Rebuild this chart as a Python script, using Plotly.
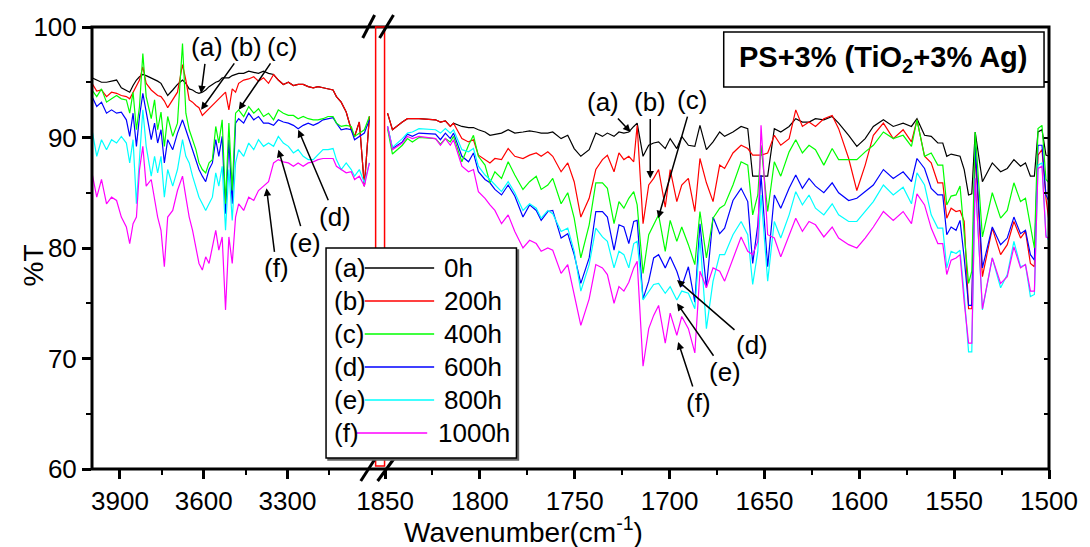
import plotly.graph_objects as go

# ---------------- data ----------------
W_LEFT = [4000, 3983, 3966, 3948, 3930, 3912, 3895, 3877, 3865, 3853, 3841, 3830, 3818, 3806, 3788, 3776,
          3765, 3753, 3741, 3729, 3711, 3694, 3676, 3664, 3652, 3640, 3628, 3617, 3605, 3593, 3581, 3569,
          3557, 3546, 3534, 3522, 3510, 3498, 3486, 3475, 3457, 3439, 3421, 3404, 3386, 3368, 3350, 3333,
          3315, 3297, 3279, 3262, 3244, 3226, 3208, 3191, 3173, 3155, 3137, 3125, 3108, 3090, 3072, 3060,
          3043, 3025, 3007]

W_RIGHT = [1848.7, 1846.1, 1840.9, 1838.2, 1835.6, 1832.1, 1823.4, 1820.8, 1818.2, 1815.6, 1813.9, 1809.5,
           1806.0, 1803.4, 1800.8, 1797.3, 1794.7, 1792.1, 1788.6, 1785.1, 1781.6, 1777.3, 1773.8, 1770.3,
           1767.7, 1764.2, 1761.6, 1757.2, 1753.7, 1750.3, 1746.8, 1742.4, 1738.9,
           1735.4, 1732.8, 1729.3, 1726.7, 1724.1, 1721.5, 1718.9, 1717.1, 1714.0, 1711.0, 1708.4, 1705.8,
           1702.3, 1699.7, 1696.2, 1693.6, 1690.1, 1686.7, 1684.0, 1680.6, 1677.1, 1673.6, 1671.0, 1666.6,
           1662.3, 1658.8, 1656.2, 1653.5, 1651.8, 1648.3, 1644.8, 1641.4, 1637.0, 1633.5, 1630.0, 1626.5,
           1623.1,
           1618.7, 1614.3, 1610.9, 1605.6, 1601.3, 1596.9, 1592.6, 1587.3, 1582.1, 1576.9, 1572.5, 1569.6,
           1565.6, 1562.1, 1558.6, 1556.0, 1553.9, 1551.6, 1549.0, 1546.9, 1544.7, 1542.4, 1540.7, 1538.9,
           1535.1, 1529.9, 1525.5, 1522.0, 1518.5, 1515.0, 1512.4, 1509.8, 1507.7, 1505.8, 1503.7, 1501.6,
           1500.0]

A_LEFT = [95.4, 95.2, 95.0, 95.0, 95.1, 95.2, 94.5, 94.3, 94.1, 94.7, 95.2, 95.5, 95.7, 95.6, 95.4, 95.2,
          95.1, 94.9, 94.4, 93.8, 94.3, 94.8, 95.2, 94.9, 94.4, 94.3, 94.1, 94.0, 94.1, 94.3, 94.6, 94.8,
          95.0, 95.1, 95.4, 95.4, 95.4, 95.6, 95.7, 95.8, 95.8, 96.0, 95.9, 95.8, 96.0, 95.8, 95.7, 95.2,
          94.8, 95.0, 94.7, 94.8, 94.8, 94.6, 94.5, 94.6, 94.5, 94.4, 94.3, 93.7, 93.2, 92.3, 90.7, 90.1,
          91.4, 85.6, 91.9]
B_LEFT = [94.9, 94.2, 94.3, 93.7, 94.1, 94.0, 93.8, 93.7, 93.5, 94.1, 94.8, 95.2, 96.4, 94.9, 94.3, 94.0,
          93.8, 93.7, 93.3, 92.7, 93.4, 94.1, 96.6, 95.2, 93.4, 93.2, 92.9, 92.7, 92.0, 92.3, 92.6, 92.9,
          93.2, 93.5, 93.8, 94.1, 92.5, 94.4, 94.1, 94.9, 95.2, 95.3, 95.5, 95.1, 95.4, 94.9, 95.7, 95.2,
          94.8, 95.0, 94.7, 94.8, 94.8, 94.6, 94.5, 94.6, 94.5, 94.4, 94.3, 93.7, 93.2, 92.3, 90.7, 90.1,
          91.4, 85.6, 91.9]
C_LEFT = [94.3, 93.7, 94.4, 93.2, 93.5, 93.8, 93.5, 93.4, 92.2, 94.1, 90.7, 92.8, 97.6, 93.7, 91.7, 93.4,
          90.7, 92.3, 89.2, 91.9, 90.1, 91.3, 98.5, 92.2, 90.7, 89.8, 88.9, 87.7, 87.1, 86.8, 87.7, 88.0,
          91.0, 89.5, 91.6, 84.0, 91.3, 85.2, 92.2, 92.5, 91.9, 92.8, 92.2, 92.6, 91.9, 92.2, 91.6, 92.5,
          92.2, 92.0, 92.0, 91.7, 91.9, 91.7, 91.6, 91.6, 91.7, 91.9, 91.9, 91.3, 91.0, 91.1, 91.0, 90.1,
          90.4, 90.7, 91.9]
D_LEFT = [93.7, 92.8, 93.2, 92.2, 92.5, 92.2, 92.3, 91.6, 90.1, 92.2, 89.2, 91.9, 94.0, 92.3, 89.8, 91.3,
          89.5, 90.7, 87.7, 89.8, 88.9, 90.4, 91.6, 90.7, 89.8, 88.9, 87.8, 87.1, 86.5, 86.0, 87.1, 87.7,
          89.8, 88.3, 90.1, 83.1, 89.8, 84.0, 91.3, 91.7, 91.3, 92.2, 91.6, 91.9, 91.3, 91.3, 91.1, 91.6,
          91.4, 91.3, 91.1, 90.8, 91.1, 91.3, 91.1, 91.3, 91.6, 91.7, 91.8, 91.3, 90.7, 90.8, 90.7, 89.8,
          90.1, 90.4, 91.6]
E_LEFT = [90.7, 88.3, 89.8, 88.9, 89.8, 89.5, 90.1, 89.5, 87.7, 89.8, 84.0, 87.7, 92.5, 89.2, 86.5, 88.3,
          86.8, 88.3, 84.6, 87.1, 85.6, 87.1, 89.8, 88.3, 87.7, 86.5, 85.6, 84.6, 84.0, 83.4, 84.0, 84.6,
          86.8, 85.6, 87.4, 81.6, 87.1, 82.5, 87.7, 88.9, 88.3, 89.5, 88.9, 89.8, 89.2, 89.5, 89.2, 90.1,
          89.5, 89.2, 88.6, 88.9, 88.3, 88.0, 88.0, 88.4, 88.9, 88.9, 89.0, 88.0, 87.1, 87.7, 87.1, 86.5,
          87.1, 85.9, 87.7]
F_LEFT = [86.8, 84.6, 86.2, 84.0, 84.6, 84.3, 82.8, 81.9, 80.4, 82.2, 82.8, 87.1, 89.2, 85.6, 86.2, 84.6,
          82.8, 81.6, 78.3, 82.8, 83.4, 85.2, 86.5, 84.6, 82.8, 81.6, 80.1, 78.6, 78.0, 79.2, 78.6, 80.1,
          81.6, 79.8, 81.0, 74.4, 81.0, 78.6, 82.8, 84.0, 83.4, 84.6, 84.3, 85.2, 85.6, 86.0, 87.7, 88.0,
          87.8, 87.7, 87.4, 87.7, 87.4, 87.7, 87.8, 88.0, 88.1, 88.1, 88.1, 87.4, 87.1, 86.8, 86.9, 86.2,
          86.5, 85.6, 87.7]

A_RIGHT = [92.2, 90.7, 91.4, 91.7, 91.7, 91.7, 91.6, 91.4, 91.5, 91.0, 91.3, 91.0, 90.9, 90.9, 90.7, 90.5,
           90.2, 90.3, 90.4, 90.7, 90.4, 90.5, 90.6, 90.5, 90.4, 90.4, 90.5, 89.9, 90.2, 89.0, 88.3, 88.9,
           90.4,
           90.1, 90.4, 90.1, 90.5, 90.4, 90.5, 91.0, 91.3, 88.3, 89.3, 89.5, 89.6, 89.0, 89.9, 89.0, 90.1,
           89.3, 89.2, 91.1, 88.9, 89.6, 90.5, 90.1, 90.5, 91.0, 90.8, 86.5, 86.5, 86.5, 86.5, 90.8, 90.5,
           91.0, 91.7, 91.4, 91.4, 91.7,
           91.6, 91.9, 91.3, 90.2, 89.2, 89.9, 91.0, 91.6, 91.0, 91.3, 91.0, 91.7, 90.2, 90.1, 89.5, 89.5,
           88.3, 88.5, 88.4, 88.3, 87.1, 84.8, 84.9, 90.5, 86.0, 87.7, 86.9, 87.2, 88.0, 87.4, 87.7, 86.5,
           86.5, 90.5, 90.7, 88.4, 88.3]
B_RIGHT = [92.2, 90.7, 91.4, 91.7, 91.7, 91.7, 91.6, 91.4, 91.5, 91.0, 91.3, 89.9, 89.6, 89.8, 88.4, 88.0,
           87.7, 88.1, 88.0, 89.0, 88.3, 88.1, 88.4, 88.6, 88.3, 88.7, 88.3, 86.9, 87.7, 86.0, 82.8, 84.5,
           87.1,
           88.0, 88.4, 86.9, 88.6, 88.0, 88.3, 87.8, 91.1, 82.2, 85.7, 86.3, 87.1, 83.7, 87.1, 84.2, 85.7,
           86.3, 83.3, 88.1, 85.9, 84.2, 87.5, 87.2, 88.6, 89.3, 89.0, 88.4, 88.4, 88.4, 88.6, 90.2, 89.3,
           89.9, 92.5, 91.0, 91.4, 91.0,
           91.7, 92.0, 90.8, 88.1, 85.2, 87.5, 90.2, 91.3, 89.9, 90.7, 89.6, 91.6, 88.3, 87.7, 85.9, 85.9,
           82.7, 83.6, 83.3, 83.4, 82.4, 74.5, 74.5, 88.7, 77.4, 81.8, 79.4, 80.3, 82.4, 80.9, 81.5, 78.6,
           78.3, 88.4, 88.9, 84.5, 82.4]
C_RIGHT = [90.8, 88.5, 89.3, 89.9, 89.6, 90.0, 89.9, 89.4, 89.9, 89.6, 90.1, 87.8, 89.3, 90.2, 88.3, 87.5,
           85.9, 86.9, 86.3, 87.8, 86.6, 85.3, 86.0, 86.5, 85.3, 85.7, 86.3, 84.0, 85.0, 82.7, 79.1, 82.1,
           85.9,
           85.9, 85.4, 82.2, 84.2, 83.6, 84.5, 85.1, 83.9, 77.7, 81.2, 82.1, 83.0, 79.7, 82.5, 80.6, 81.9,
           80.3, 78.5, 83.3, 79.1, 82.7, 83.6, 83.9, 85.7, 87.8, 87.5, 83.0, 84.8, 89.3, 83.3, 87.8, 86.5,
           88.7, 89.8, 88.6, 89.3, 88.9,
           87.5, 89.0, 88.0, 88.0, 88.0, 88.7, 89.3, 90.5, 89.9, 90.2, 89.2, 91.6, 88.3, 88.6, 87.5, 87.5,
           83.9, 84.7, 84.8, 85.6, 81.2, 76.8, 77.9, 90.5, 81.0, 85.0, 82.7, 83.4, 85.9, 84.2, 84.5, 81.8,
           80.0, 90.8, 91.1, 86.2, 85.9]
D_RIGHT = [91.0, 89.0, 89.6, 90.3, 90.1, 90.4, 90.3, 89.8, 90.4, 89.9, 90.4, 88.3, 87.8, 88.6, 86.9, 86.2,
           85.9, 85.3, 84.8, 85.7, 84.7, 82.8, 83.9, 83.4, 82.5, 83.3, 83.4, 80.9, 81.3, 79.4, 76.8, 79.1,
           83.3,
           83.3, 82.8, 79.8, 82.1, 81.9, 80.4, 82.4, 82.5, 75.4, 77.0, 79.1, 79.4, 78.2, 79.2, 77.9, 76.5,
           78.3, 75.1, 82.2, 76.4, 82.8, 81.3, 81.8, 84.3, 85.4, 84.2, 78.6, 82.1, 86.6, 78.3, 84.8, 83.6,
           85.4, 86.6, 85.4, 86.3, 85.6,
           85.0, 85.9, 85.0, 84.3, 84.5, 85.1, 85.7, 87.1, 86.3, 86.9, 86.0, 88.1, 87.2, 85.4, 84.8, 84.8,
           81.2, 81.9, 81.6, 82.5, 79.1, 74.8, 74.8, 89.3, 78.2, 81.9, 80.3, 80.9, 82.8, 81.3, 81.6, 79.4,
           78.9, 89.3, 89.3, 84.8, 84.2]
E_RIGHT = [91.0, 89.1, 89.9, 90.4, 90.5, 90.8, 90.7, 90.4, 90.8, 90.4, 90.7, 88.9, 88.7, 89.0, 87.4, 86.6,
           86.2, 85.7, 85.1, 86.0, 85.0, 83.4, 84.0, 83.6, 82.7, 83.4, 83.1, 81.5, 81.8, 79.7, 76.1, 78.5,
           81.8,
           81.0, 80.6, 78.2, 79.7, 79.4, 78.2, 80.4, 80.6, 75.3, 76.1, 76.7, 76.8, 75.9, 76.5, 75.3, 76.1,
           75.9, 74.5, 80.9, 72.7, 77.0, 79.4, 79.4, 81.2, 82.4, 81.2, 76.7, 79.7, 84.8, 77.0, 82.4, 80.9,
           83.0, 85.1, 83.9, 84.8, 83.6,
           83.0, 84.0, 83.0, 82.4, 82.4, 83.3, 84.2, 85.7, 84.8, 85.5, 84.0, 86.8, 85.7, 83.0, 81.8, 81.8,
           78.2, 79.7, 79.5, 79.8, 75.8, 70.6, 70.6, 86.3, 74.4, 79.1, 76.4, 77.6, 80.6, 78.3, 78.5, 75.6,
           75.8, 87.5, 87.7, 81.2, 80.6]
F_RIGHT = [91.0, 88.9, 89.5, 90.1, 89.9, 90.1, 89.9, 89.3, 89.9, 89.3, 89.8, 87.4, 86.9, 87.1, 85.1, 84.5,
           83.9, 83.4, 82.2, 83.0, 81.5, 80.0, 80.7, 80.4, 79.7, 80.0, 79.8, 77.7, 78.5, 75.8, 73.0, 75.4,
           78.5,
           78.2, 77.6, 75.0, 76.5, 76.1, 76.9, 78.2, 78.8, 69.3, 72.7, 73.9, 74.8, 71.4, 74.1, 72.1, 73.8,
           72.7, 70.5, 77.9, 76.4, 78.2, 77.9, 77.0, 79.1, 81.0, 79.7, 79.4, 80.6, 91.1, 81.2, 80.9, 79.2,
           81.2, 82.7, 81.5, 82.4, 82.1,
           81.0, 81.9, 80.9, 80.3, 80.0, 80.9, 81.9, 83.3, 82.5, 83.3, 82.2, 84.9, 83.9, 81.8, 80.4, 80.4,
           77.6, 78.9, 79.1, 79.4, 75.1, 71.4, 71.4, 86.3, 74.5, 79.1, 76.8, 77.4, 80.1, 78.2, 78.5, 76.1,
           76.1, 87.2, 87.4, 81.0, 80.9]

LABELS = ["(a)", "(b)", "(c)", "(d)", "(e)", "(f)"]
HOURS = ["0h", "200h", "400h", "600h", "800h", "1000h"]
COLORS = ["#000000", "#ff0000", "#00ff00", "#0000ff", "#00ffff", "#ff00ff"]
LEFT = [A_LEFT, B_LEFT, C_LEFT, D_LEFT, E_LEFT, F_LEFT]
RIGHT = [A_RIGHT, B_RIGHT, C_RIGHT, D_RIGHT, E_RIGHT, F_RIGHT]

X_TICKS_LEFT = [3900, 3600, 3300]
X_MINOR_LEFT = [3750, 3450, 3150]
TITLE_TEXT = "PS+3% (TiO<sub>2</sub>+3% Ag)"

# ---------------- layout geometry (page pixels) ----------------
W, H = 1090, 547
L, R, T, B = 92, 1057, 27, 469   # plot area in page pixels
BREAK = 381


def PX(p):
    return (p - L) / (R - L)


def PY(p):
    return (B - p) / (B - T)


SANS = "Liberation Sans, Arial, sans-serif"
TXT = dict(family=SANS, size=26, color="black")

fig = go.Figure()
order = [0, 1, 3, 2, 4, 5]
for i in order:
    fig.add_trace(go.Scatter(x=W_LEFT, y=LEFT[i], xaxis="x", yaxis="y", mode="lines",
                             line=dict(color=COLORS[i], width=1.2), showlegend=False, hoverinfo="skip"))
    fig.add_trace(go.Scatter(x=W_RIGHT, y=RIGHT[i], xaxis="x2", yaxis="y", mode="lines",
                             line=dict(color=COLORS[i], width=1.2), showlegend=False, hoverinfo="skip"))
# empty trace that makes the right-hand (inner tick) axis exist
fig.add_trace(go.Scatter(x=[], y=[], xaxis="x2", yaxis="y2", showlegend=False, hoverinfo="skip"))

axis_common = dict(showgrid=False, zeroline=False, showline=False, ticks="outside", ticklen=9,
                   tickwidth=3, tickcolor="black", tickfont=TXT)

shapes = []
shapes.append(dict(type="rect", xref="paper", yref="paper", x0=0, x1=1, y0=0, y1=1,
                   line=dict(color="black", width=3)))
shapes.append(dict(type="rect", xref="paper", yref="paper", x0=PX(378), x1=PX(387), y0=PY(466), y1=PY(27),
                   line=dict(color="#ff0000", width=1.5)))
for (x0, y0, x1, y1) in [(365, 38, 377, 15), (382, 38, 396, 15), (363, 481, 378, 458), (380, 481, 397, 458)]:
    shapes.append(dict(type="line", xref="paper", yref="paper", x0=PX(x0), y0=PY(y0), x1=PX(x1), y1=PY(y1),
                       line=dict(color="black", width=3)))
shapes.append(dict(type="rect", xref="paper", yref="paper", x0=PX(330), x1=PX(522), y0=PY(460), y1=PY(250),
                   line=dict(color="#666666", width=1.5), fillcolor="#666666"))
shapes.append(dict(type="rect", xref="paper", yref="paper", x0=PX(328), x1=PX(520), y0=PY(458), y1=PY(248),
                   line=dict(color="black", width=1.5), fillcolor="white"))
shapes.append(dict(type="rect", xref="paper", yref="paper", x0=PX(729), x1=PX(1052), y0=PY(87), y1=PY(32),
                   line=dict(color="black", width=1.5), fillcolor="white"))

annotations = []
rows = [268, 301, 334, 367, 400, 433]
for i in range(6):
    y = PY(rows[i])
    lx0, lx1, tx = (367, 437, 445) if i < 5 else (359, 430, 439)
    annotations.append(dict(xref="paper", yref="paper", x=PX(334), y=y, text=LABELS[i], showarrow=False,
                            xanchor="left", yanchor="middle", font=TXT))
    annotations.append(dict(xref="paper", yref="paper", x=PX(tx), y=y, text=HOURS[i], showarrow=False,
                            xanchor="left", yanchor="middle", font=TXT))
    shapes.append(dict(type="line", xref="paper", yref="paper", x0=PX(lx0), x1=PX(lx1), y0=y, y1=y,
                       line=dict(color=COLORS[i], width=1.3)))

# arrow labels: (axis, wavenumber, value, ax, ay)
ARROWS = [("x", 3609.5, 94.0, 6, -46), ("x", 3609.5, 92.5, 45, -63), ("x", 3474.6, 92.5, 43, -63),
          ("x", 3261.6, 90.7, 37, 87), ("x", 3332.6, 88.9, 27, 93), ("x", 3375.2, 85.4, 10, 80),
          ("x2", 1720.6, 90.5, -28, -30), ("x2", 1710.2, 86.3, 0, -76), ("x2", 1706.0, 82.7, 34, -118),
          ("x2", 1696.1, 77.1, 75, 65), ("x2", 1696.1, 75.0, 48, 69), ("x2", 1695.5, 71.5, 20, 61)]
for k, (xr, xv, yv, ax, ay) in enumerate(ARROWS):
    annotations.append(dict(xref=xr, yref="y", x=xv, y=yv, ax=ax, ay=ay, text=LABELS[k % 6],
                            showarrow=True, arrowhead=2, arrowsize=1, arrowwidth=1.5, arrowcolor="black",
                            xanchor="center", yanchor="middle", font=TXT))

annotations.append(dict(xref="paper", yref="paper", x=PX(890), y=PY(59), text="<b>" + TITLE_TEXT + "</b>",
                        showarrow=False, xanchor="center", yanchor="middle",
                        font=dict(family=SANS, size=29, color="black")))
annotations.append(dict(xref="paper", yref="paper", x=PX(527), y=PY(530), text="Wavenumber(cm<sup>-1</sup>)",
                        showarrow=False, xanchor="center", yanchor="middle",
                        font=dict(family=SANS, size=28, color="black")))
annotations.append(dict(xref="paper", yref="paper", x=PX(33), y=PY(265), text="%T", textangle=-90,
                        showarrow=False, xanchor="center", yanchor="middle",
                        font=dict(family=SANS, size=28, color="black")))

fig.update_layout(
    width=W, height=H, plot_bgcolor="white", paper_bgcolor="white",
    margin=dict(l=L, r=W - R, t=T, b=H - B, pad=0),
    xaxis=dict(domain=[0, PX(BREAK)], range=[4000, 2974], tickmode="array", tickvals=X_TICKS_LEFT,
               minor=dict(tickmode="array", tickvals=X_MINOR_LEFT, ticks="outside", ticklen=5, tickwidth=2,
                          tickcolor="black"),
               anchor="y", **axis_common),
    xaxis2=dict(domain=[PX(BREAK), 1], range=[1853.4, 1500], tick0=1500, dtick=50,
                minor=dict(dtick=25, ticks="outside", ticklen=5, tickwidth=2, tickcolor="black"),
                anchor="y", **axis_common),
    yaxis=dict(range=[60, 100], tick0=60, dtick=10, anchor="x", showgrid=False, zeroline=False,
               showline=False, ticks="outside", ticklen=9, tickwidth=3, tickcolor="black", tickfont=TXT,
               minor=dict(dtick=5, ticks="outside", ticklen=5, tickwidth=2, tickcolor="black")),
    yaxis2=dict(range=[60, 100], tick0=60, dtick=5, overlaying="y", side="right", anchor="x2",
                showgrid=False, zeroline=False, showline=False, ticks="inside", ticklen=5, tickwidth=2,
                tickcolor="black", showticklabels=False),
    shapes=shapes, annotations=annotations,
)

# remove the browser's default page margin so the figure starts at the window's corner
fig.write_html("out.html", config={"displayModeBar": False},
               post_script="document.body.style.margin='0px';")
